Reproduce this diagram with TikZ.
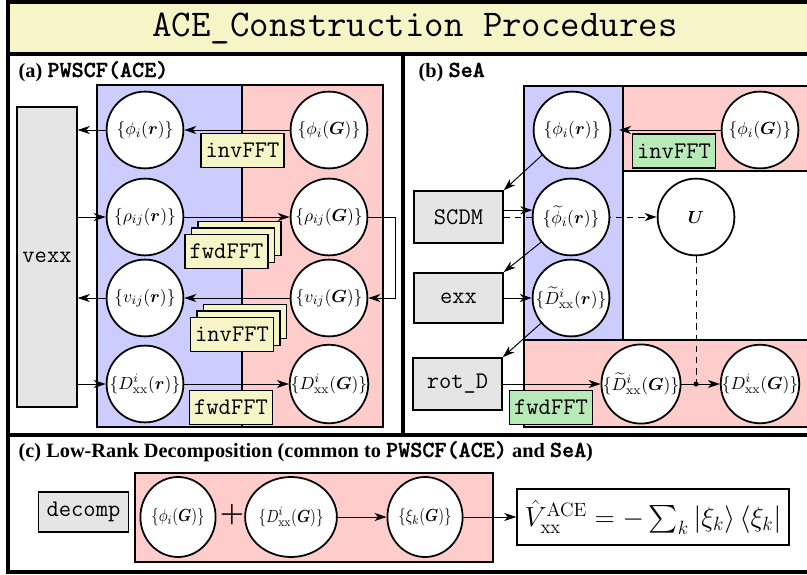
\documentclass[tikz,border=0pt]{standalone}
\usepackage{amsmath}
\usepackage{graphicx}
\usepackage[no-math]{fontspec}
\setmainfont{Liberation Serif}
\newfontfamily\bmonofam{lmmonolt10-bold.otf}[FakeBold=1.2]
\usetikzlibrary{arrows.meta,shapes.geometric}
\definecolor{bluebg}{RGB}{204,204,255}
\definecolor{pinkbg}{RGB}{255,204,204}
\definecolor{yellowbg}{RGB}{245,245,200}
\definecolor{greenbg}{RGB}{183,234,183}
\definecolor{graybg}{RGB}{229,229,229}
\newcommand\bmono[1]{{\fontsize{14.4}{15}\selectfont\bmonofam #1}}
\pgfdeclarelayer{regions}
\pgfdeclarelayer{links}
\pgfsetlayers{regions,links,main}
\begin{document}
\begin{tikzpicture}[x=0.625pt,y=-0.625pt,
  circ/.style={circle,draw,fill=white,line width=1.1pt,minimum size=48pt,inner sep=0pt,font=\fontsize{10.95}{13}\selectfont},
  ell/.style={ellipse,draw,fill=white,line width=1.1pt,minimum width=39pt,minimum height=50pt,inner sep=0pt,font=\fontsize{10.95}{13}\selectfont},
  fftbox/.style={draw,line width=0.9pt,minimum width=52pt,minimum height=21.5pt,inner sep=0pt,font=\fontsize{14.9}{16}\selectfont\ttfamily},
  fftY/.style={fftbox,fill=yellowbg},
  fftG/.style={fftbox,fill=greenbg},
  grayb/.style={draw,fill=graybg,line width=0.9pt,inner sep=0pt,font=\fontsize{14.9}{16}\selectfont\ttfamily},
  arr/.style={line width=0.6pt,-{Stealth[length=7.5pt,width=5pt,inset=2.2pt]}},
  dasharr/.style={arr,dash pattern=on 4pt off 3pt},
  region/.style={line width=0.9pt},
  sepline/.style={line width=2.6pt},
  plabel/.style={anchor=base west,font=\fontsize{12.7}{15}\selectfont\bfseries}]
\useasboundingbox (0,0) rectangle (807,574);
\clip (0,0) rectangle (807,574);

% ---------- background, frame, regions ----------
\begin{pgfonlayer}{regions}
  \fill[yellowbg] (8,2) rectangle (815,54);
  % (a)
  \fill[bluebg] (97,85) rectangle (242,427);
  \fill[pinkbg] (242,85) rectangle (383,427);
  \draw[region] (97,85) rectangle (383,427);
  \draw[region] (242,85) -- (242,427);
  % (b)
  \fill[bluebg] (524,86) rectangle (623,340);
  \fill[pinkbg] (623,86) rectangle (815,171);
  \fill[pinkbg] (524,340) rectangle (815,427);
  \draw[region] (524,86) rectangle (623,340);
  \draw[region] (623,86) rectangle (815,171);
  \draw[region] (524,340) rectangle (815,427);
  % (c)
  \fill[pinkbg] (135,473) rectangle (493,562);
  \draw[region] (135,473) rectangle (493,562);
  % frame and separators
  \draw[sepline] (8,2) rectangle (815,572);
  \draw[sepline] (8,54) -- (815,54);
  \draw[sepline] (8,435) -- (815,435);
  \draw[sepline] (403,54) -- (403,435);
\end{pgfonlayer}

% ---------- title and panel labels ----------
\node (title) at (415,28) {\fontsize{23.6}{26}\selectfont\ttfamily ACE\_Construction Procedures};
\node[plabel] (labA) at (13,77) {(a) \bmono{PWSCF(ACE)}};
\node[plabel] (labB) at (413,77) {(b) \bmono{SeA}};
\node[plabel] (labC) at (13,457) {(c) Low-Rank Decomposition (common to \bmono{PWSCF(ACE)} and \bmono{SeA})};

% ---------- panel (a) ----------
\node[grayb,minimum width=37.5pt,minimum height=187.5pt] (vexx) at (47,257) {vexx};
\node[circ] (phiRa) at (145,130) {$\{\phi_i(\boldsymbol{r})\}$};
\node[circ] (phiGa) at (329,130) {$\{\phi_i(\boldsymbol{G})\}$};
\node[circ] (rhoRa) at (145,217) {$\{\rho_{ij}(\boldsymbol{r})\}$};
\node[circ] (rhoGa) at (329,217) {$\{\rho_{ij}(\boldsymbol{G})\}$};
\node[circ] (vRa) at (145,298) {$\{v_{ij}(\boldsymbol{r})\}$};
\node[circ] (vGa) at (329,298) {$\{v_{ij}(\boldsymbol{G})\}$};
\node[circ] (dRa) at (145,384) {$\{D^i_{\mathrm{xx}}(\boldsymbol{r})\}$};
\node[circ] (dGa) at (329,384) {$\{D^i_{\mathrm{xx}}(\boldsymbol{G})\}$};

\node[fftY] (invA) at (242.5,150.5) {invFFT};
\node[fftY,xshift=8.1pt,yshift=8.1pt] (fwdA3) at (226.5,251.5) {};
\node[fftY,xshift=4.05pt,yshift=4.05pt] (fwdA2) at (226.5,251.5) {};
\node[fftY] (fwdA) at (226.5,251.5) {fwdFFT};
\node[fftY,xshift=8.1pt,yshift=8.1pt] (invB3) at (232,334.5) {};
\node[fftY,xshift=4.05pt,yshift=4.05pt] (invB2) at (232,334.5) {};
\node[fftY] (invB) at (232,334.5) {invFFT};
\node[fftY] (fwdB) at (231,407.5) {fwdFFT};

\coordinate (turnA) at (395,217);
\draw[arr] (phiGa) -- (phiRa);
\draw[arr] (phiRa) -- (vexx.east |- phiRa);
\draw[arr] (vexx.east |- rhoRa) -- (rhoRa);
\draw[arr] (rhoRa) -- (rhoGa);
\draw[arr] (rhoGa.east) -- (turnA) |- (vGa.east);
\draw[arr] (vGa) -- (vRa);
\draw[arr] (vRa) -- (vexx.east |- vRa);
\draw[arr] (vexx.east |- dRa) -- (dRa);
\draw[arr] (dRa) -- (dGa);

% ---------- panel (b) ----------
\node[circ] (phiRb) at (572,130) {$\{\phi_i(\boldsymbol{r})\}$};
\node[circ] (phiGb) at (760,130) {$\{\phi_i(\boldsymbol{G})\}$};
\node[circ] (phtR) at (571,217) {$\{\widetilde{\phi}_i(\boldsymbol{r})\}$};
\node[circ] (U) at (696,217) {$\boldsymbol{U}$};
\node[circ] (dtR) at (571,298) {$\{\widetilde{D}^i_{\mathrm{xx}}(\boldsymbol{r})\}$};
\node[circ] (dtG) at (641,384) {$\{\widetilde{D}^i_{\mathrm{xx}}(\boldsymbol{G})\}$};
\node[circ] (dGb) at (760,384) {$\{D^i_{\mathrm{xx}}(\boldsymbol{G})\}$};

\node[grayb,minimum width=55.6pt,minimum height=32.5pt] (scdm) at (458.5,217) {SCDM};
\node[grayb,minimum width=55.6pt,minimum height=31.5pt] (exx) at (458.5,298) {exx};
\node[grayb,minimum width=55.6pt,minimum height=32.5pt] (rotD) at (457.5,384) {rot\_D};
\node[fftG] (invC) at (674,151) {invFFT};
\node[fftG] (fwdC) at (551,407.5) {fwdFFT};
\node[circle,fill,inner sep=0pt,minimum size=3.2pt] (dot) at (696,384) {};
\coordinate (phiRbE) at (619,130);

\begin{pgfonlayer}{links}
  \draw[dasharr] (scdm.east) -- (U.west);
\end{pgfonlayer}
\draw[arr] (phiGb) -- (phiRbE);
\draw[arr] (phiRb.220) -- (scdm.north east);
\draw[arr] (scdm.east |- phtR.170) -- (phtR.170);
\draw[arr] (phtR.220) -- (exx.north east);
\draw[arr] (exx.east) -- (dtR);
\draw[arr] (dtR.220) -- (rotD.north east);
\draw[arr] (rotD.east) -- (dtG);
\draw[arr] (dtG) -- (dGb);
\draw[dash pattern=on 4pt off 3pt,line width=0.6pt] (U.south) -- (dot.center);

% ---------- panel (c) ----------
\node[grayb,minimum width=56pt,minimum height=25pt] (decomp) at (83.5,512) {decomp};
\node[ell] (phiGc) at (178,517) {\scalebox{0.85}[1]{$\{\phi_i(\boldsymbol{G})\}$}};
\node (plus) at (232,515) {\LARGE$\boldsymbol{+}$};
\node[ell,minimum width=46pt] (dGc) at (291,517) {\scalebox{0.85}[1]{$\{D^i_{\mathrm{xx}}(\boldsymbol{G})\}$}};
\node[ell] (xiGc) at (425,517) {\scalebox{0.85}[1]{$\{\xi_k(\boldsymbol{G})\}$}};
\node[draw,fill=white,line width=0.9pt,minimum width=170pt,minimum height=35pt,inner sep=0pt] (vace) at (653,517)
  {\fontsize{18.2}{22}\selectfont$\hat{V}^{\mathrm{ACE}}_{\mathrm{xx}}=-\sum_k|\xi_k\rangle\,\langle\xi_k|$};
\draw[arr] (dGc) -- (xiGc);
\draw[arr] (xiGc) -- (vace);
\end{tikzpicture}
\end{document}
